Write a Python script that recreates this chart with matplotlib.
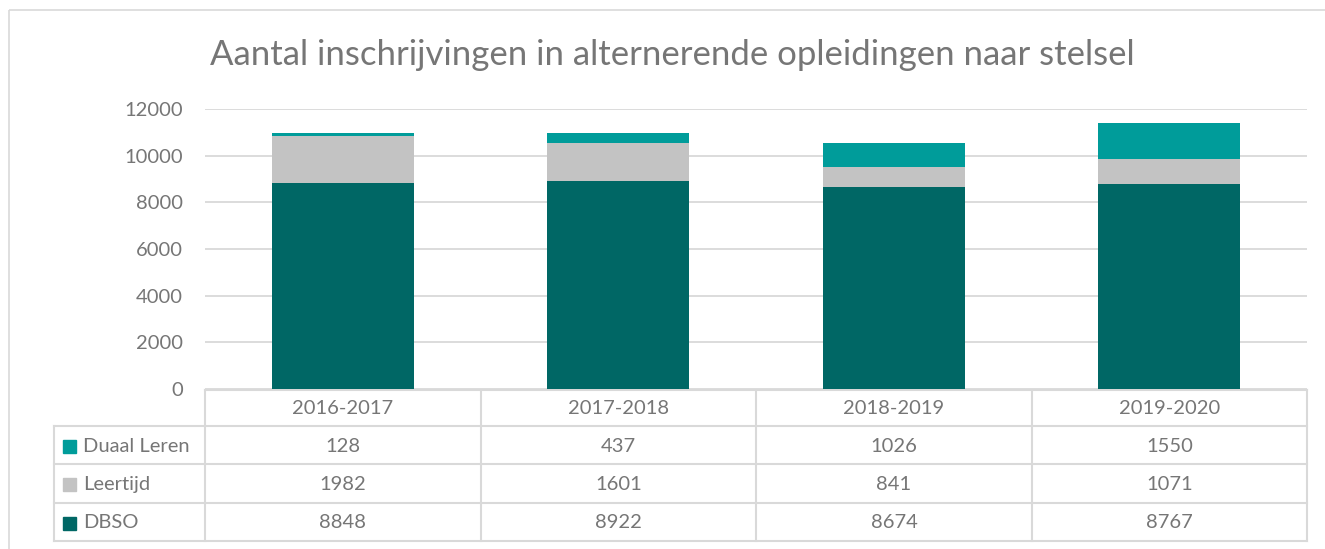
import matplotlib
matplotlib.use("Agg")
import matplotlib.pyplot as plt
from matplotlib.patches import Rectangle
from matplotlib.lines import Line2D

# ---- data ----
years = ["2016-2017", "2017-2018", "2018-2019", "2019-2020"]
dbso = [8848, 8922, 8674, 8767]
leertijd = [1982, 1601, 841, 1071]
duaal = [128, 437, 1026, 1550]
series_names = ["Duaal Leren", "Leertijd", "DBSO"]
yticks = [0, 2000, 4000, 6000, 8000, 10000, 12000]

c_dbso = "#006765"
c_leer = "#C3C3C3"
c_duaal = "#009C9A"
txt = "#767676"
grid = "#D9D9D9"

plt.rcParams['font.family'] = ['Lato', 'DejaVu Sans']

W, H = 1325, 549
fig = plt.figure(figsize=(W / 100, H / 100), dpi=100)

# overlay in pixel coordinates
ov = fig.add_axes([0, 0, 1, 1])
ov.set_xlim(0, W)
ov.set_ylim(H, 0)
ov.axis("off")
ov.add_patch(Rectangle((9, 10), W + 10, H, fill=False, edgecolor=grid, lw=1.2))

px_l, px_r, px_top, px_bot = 205, 1307, 109, 389
ax = fig.add_axes([px_l / W, (H - px_bot) / H, (px_r - px_l) / W, (px_bot - px_top) / H])
ax.set_facecolor("none")
x = list(range(len(years)))
bw = 0.515
ax.bar(x, dbso, bw, color=c_dbso, zorder=3)
ax.bar(x, leertijd, bw, bottom=dbso, color=c_leer, zorder=3)
bot2 = [a + b for a, b in zip(dbso, leertijd)]
ax.bar(x, duaal, bw, bottom=bot2, color=c_duaal, zorder=3)
ax.set_xlim(-0.5, len(years) - 0.5)
ax.set_ylim(0, 12000)
ax.set_yticks(yticks)
ax.set_yticklabels([str(t) for t in yticks])
ax.tick_params(axis='y', length=0, pad=16, labelsize=14.5, labelcolor=txt)
ax.set_xticks([])
ax.grid(axis='y', color=grid, lw=1.3, zorder=0)
for s in ax.spines.values():
    s.set_visible(False)

ov.text(672, 55, "Aantal inschrijvingen in alternerende opleidingen naar stelsel",
        ha="center", va="center", fontsize=25, color=txt)

# ---- data table ----
cols = [205, 481, 756, 1032, 1307]
rows = [390, 426, 464, 503, 541]
left = 54
lc = "#D9D9D9"
lw = 1.5
ov.add_line(Line2D([cols[0], cols[-1]], [rows[0], rows[0]], color=lc, lw=lw))
for yy in rows[1:]:
    ov.add_line(Line2D([left, cols[-1]], [yy, yy], color=lc, lw=lw))
for xx in cols:
    ov.add_line(Line2D([xx, xx], [rows[0], rows[-1]], color=lc, lw=lw))
ov.add_line(Line2D([left, left], [rows[1], rows[-1]], color=lc, lw=lw))

fs = 14.5
for i, yr in enumerate(years):
    cx = (cols[i] + cols[i + 1]) / 2
    ov.text(cx, (rows[0] + rows[1]) / 2 + 1, yr, ha="center", va="center", fontsize=fs, color=txt)
table_vals = [duaal, leertijd, dbso]
colors = [c_duaal, c_leer, c_dbso]
for r, (name, vals, col) in enumerate(zip(series_names, table_vals, colors)):
    cy = (rows[r + 1] + rows[r + 2]) / 2 + 1
    ov.add_patch(Rectangle((63, cy - 6.5), 13, 13, color=col))
    ov.text(83, cy, name, ha="left", va="center", fontsize=fs, color=txt)
    for i, v in enumerate(vals):
        cx = (cols[i] + cols[i + 1]) / 2
        ov.text(cx, cy, str(v), ha="center", va="center", fontsize=fs, color=txt)

fig.savefig("out.png", dpi=100)
